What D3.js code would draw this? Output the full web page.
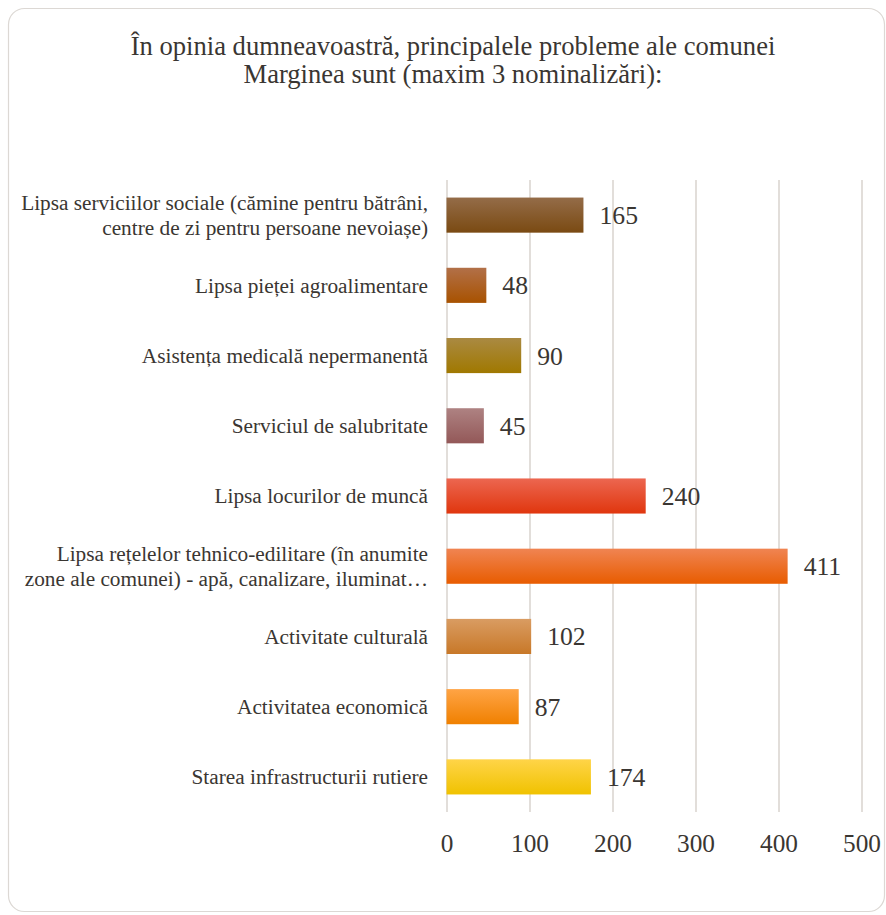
<!DOCTYPE html>
<html><head><meta charset="utf-8">
<script src="https://cdn.jsdelivr.net/npm/d3@7"></script>
<style>html,body{margin:0;padding:0;background:#fff;}</style>
</head><body>
<svg id="c" width="886" height="915"></svg>
<script>
const categories = [
  ["Lipsa serviciilor sociale (cămine pentru bătrâni,", "centre de zi pentru persoane nevoiașe)"],
  ["Lipsa pieței agroalimentare"],
  ["Asistența medicală nepermanentă"],
  ["Serviciul de salubritate"],
  ["Lipsa locurilor de muncă"],
  ["Lipsa rețelelor tehnico-edilitare (în anumite", "zone ale comunei) - apă, canalizare, iluminat…"],
  ["Activitate culturală"],
  ["Activitatea economică"],
  ["Starea infrastructurii rutiere"]
];
const values = [165, 48, 90, 45, 240, 411, 102, 87, 174];
const tickValues = [0, 100, 200, 300, 400, 500];
const titleLines = ["În opinia dumneavoastră, principalele probleme ale comunei", "Marginea sunt (maxim 3 nominalizări):"];
const barColors = [
  ["#946c48", "#7a4a12"],
  ["#b27048", "#a85200"],
  ["#aa8a42", "#a07800"],
  ["#ae8282", "#935858"],
  ["#ec6650", "#e0360e"],
  ["#f08452", "#e85c00"],
  ["#d99c62", "#c87828"],
  ["#ffa445", "#f08000"],
  ["#ffd448", "#f0c200"]
];

const svg = d3.select("#c");
const font = "'Liberation Serif','Times New Roman',serif";
const txt = "#3a3632";

svg.append("rect").attr("x", 8.5).attr("y", 8.5).attr("width", 876).attr("height", 903)
  .attr("rx", 16).attr("fill", "#fff").attr("stroke", "#dcd8d4").attr("stroke-width", 1.2);

svg.append("g").selectAll("text").data(titleLines).join("text")
  .attr("x", 453).attr("y", (d, i) => 55 + i * 28)
  .attr("text-anchor", "middle").attr("font-family", font).attr("font-size", 26.6).attr("fill", txt)
  .text(d => d);

const x = d3.scaleLinear().domain([0, 500]).range([446.5, 861.5]);
const y = d3.scaleBand().domain(d3.range(categories.length)).range([180, 812]).paddingInner(0.5).paddingOuter(0.25);

const defs = svg.append("defs");
barColors.forEach((c, i) => {
  const g = defs.append("linearGradient").attr("id", "g" + i).attr("x1", 0).attr("y1", 0).attr("x2", 0).attr("y2", 1);
  g.append("stop").attr("offset", "0%").attr("stop-color", c[0]);
  g.append("stop").attr("offset", "100%").attr("stop-color", c[1]);
});

// grid
const grid = svg.append("g").attr("transform", "translate(0,812)")
  .call(d3.axisBottom(x).tickValues(tickValues).tickSize(-632).tickFormat(""));
grid.select(".domain").remove();
grid.selectAll("line").attr("stroke", "#e2deda").attr("stroke-width", 2);

// axis labels
const ax = svg.append("g").attr("transform", "translate(0,812)")
  .call(d3.axisBottom(x).tickValues(tickValues).tickSize(0).tickPadding(22));
ax.select(".domain").remove();
ax.selectAll("text").attr("font-family", font).attr("font-size", 25.3).attr("fill", txt).attr("dy", "0.71em");

// bars
svg.append("g").selectAll("rect").data(values).join("rect")
  .attr("x", x(0)).attr("y", (d, i) => y(i)).attr("width", d => x(d) - x(0))
  .attr("height", y.bandwidth()).attr("fill", (d, i) => "url(#g" + i + ")");

// value labels
svg.append("g").selectAll("text").data(values).join("text")
  .attr("x", d => x(d) + 16).attr("y", (d, i) => y(i) + y.bandwidth() / 2)
  .attr("dy", "0.35em").attr("font-family", font).attr("font-size", 25.7).attr("fill", txt)
  .text(d => d);

// category labels
const lab = svg.append("g").selectAll("text").data(categories).join("text")
  .attr("text-anchor", "end").attr("font-family", font).attr("font-size", 21.3).attr("fill", txt)
  .attr("transform", (d, i) => `translate(428,${y(i) + y.bandwidth() / 2})`);
lab.selectAll("tspan").data(d => d.map((t, k) => ({t, k, n: d.length}))).join("tspan")
  .attr("x", 0).attr("y", d => (d.k - (d.n - 1) / 2) * 25).attr("dy", "0.35em").text(d => d.t);
</script>
</body></html>
